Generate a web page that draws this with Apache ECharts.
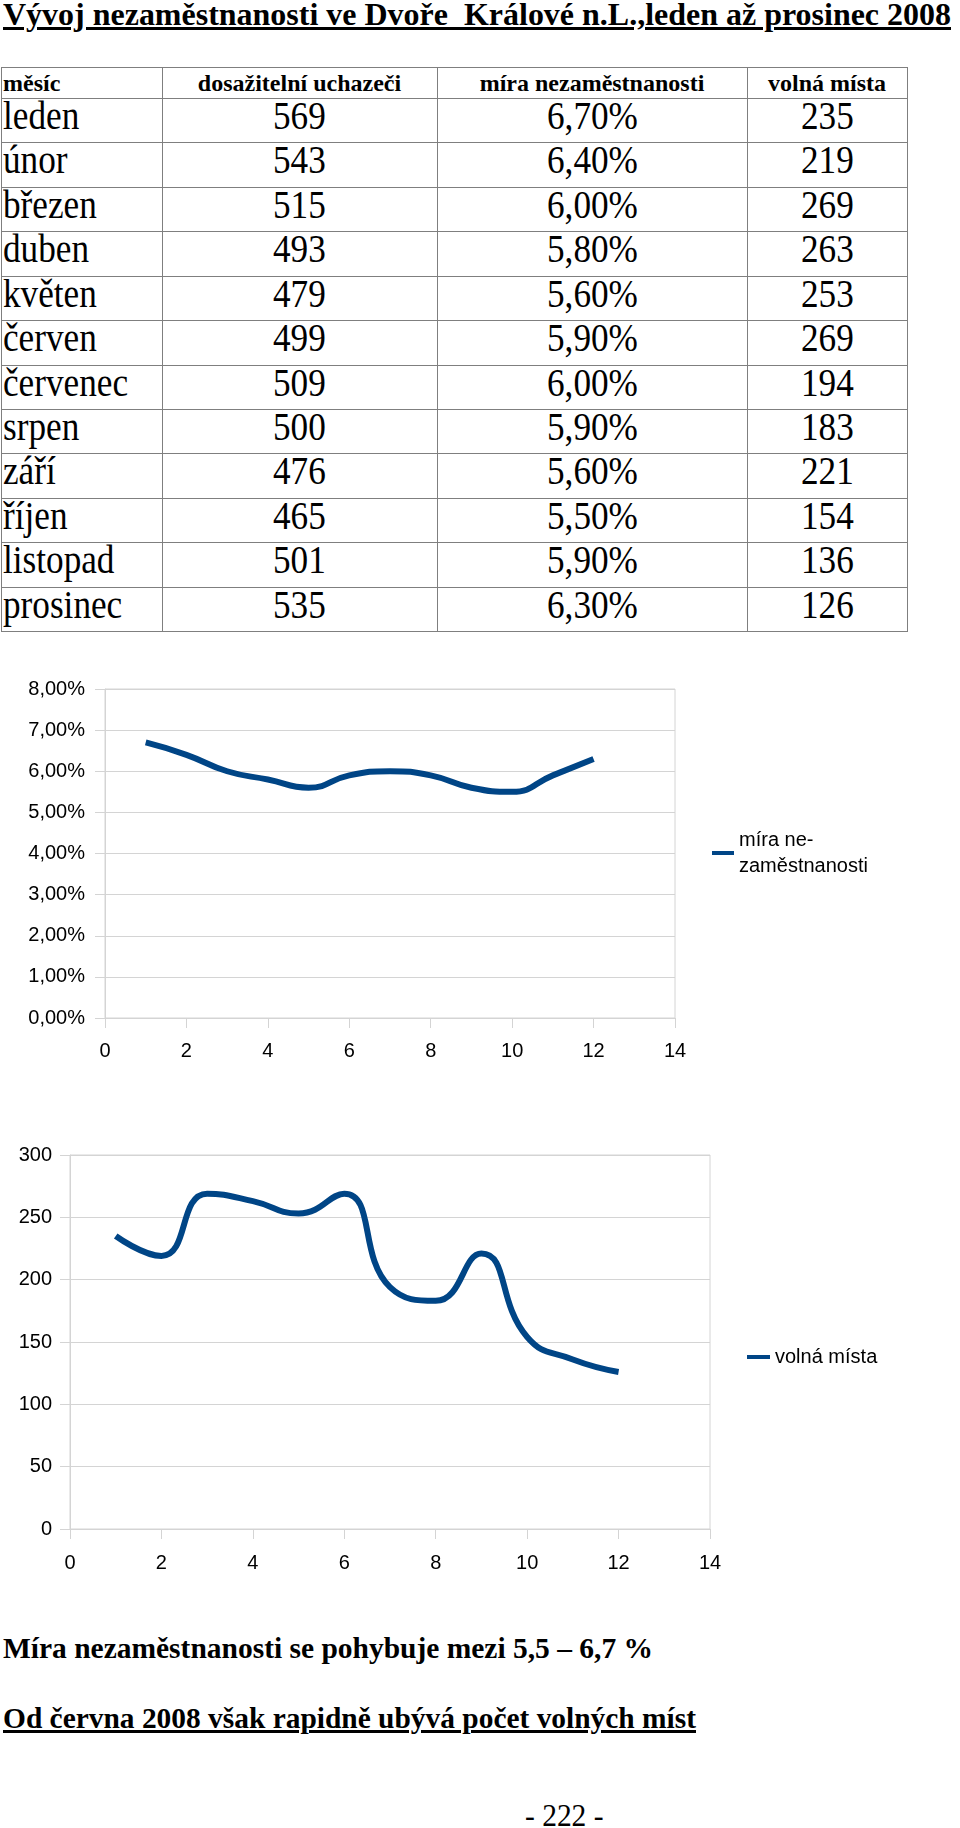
<!DOCTYPE html>
<html><head><meta charset="utf-8">
<script src="https://cdn.jsdelivr.net/npm/echarts@6/dist/echarts.min.js"></script>
<style>
html,body{margin:0;padding:0;background:#fff;}
body{width:960px;height:1828px;position:relative;overflow:hidden;}
.t{position:absolute;white-space:pre;color:#000;}
.ln{position:absolute;background:#7f7f7f;}
</style></head><body>
<div id="c1" style="position:absolute;left:0;top:660px;width:960px;height:420px"></div>
<div id="c2" style="position:absolute;left:0;top:1120px;width:960px;height:470px"></div>
<script>
// ---- data ----
const titleText = "Vývoj nezaměstnanosti ve Dvoře  Králové n.L.,leden až prosinec 2008";
const headers = ["měsíc", "dosažitelní uchazeči", "míra nezaměstnanosti", "volná místa"];
const months = ["leden", "únor", "březen", "duben", "květen", "červen", "červenec", "srpen", "září", "říjen", "listopad", "prosinec"];
const monthNumbers = [1, 2, 3, 4, 5, 6, 7, 8, 9, 10, 11, 12];
const applicants = [569, 543, 515, 493, 479, 499, 509, 500, 476, 465, 501, 535];
const unemploymentRate = [6.7, 6.4, 6.0, 5.8, 5.6, 5.9, 6.0, 5.9, 5.6, 5.5, 5.9, 6.3];
const vacancies = [235, 219, 269, 263, 253, 269, 194, 183, 221, 154, 136, 126];
const rateSeriesName = "míra nezaměstnanosti";
const rateLegendLabel = "míra ne-\nzaměstnanosti";
const vacSeriesName = "volná místa";
const note1 = "Míra nezaměstnanosti se pohybuje mezi 5,5 – 6,7 %";
const note2 = "Od června 2008 však rapidně ubývá počet volných míst";
const pageNo = "- 222 -";

// ---- helpers ----
const SERIF = '"Liberation Serif","Times New Roman",serif';
const SANS = '"Liberation Sans",Arial,sans-serif';
function addText(txt, o) {
  const d = document.createElement('div');
  d.className = 't';
  d.style.font = (o.bold ? 'bold ' : '') + o.size + 'px ' + SERIF;
  d.style.lineHeight = o.size + 'px';
  d.style.top = (o.baseline - 0.8375 * o.size) + 'px';
  const s = document.createElement('span');
  s.textContent = txt;
  s.style.display = 'inline-block';
  s.style.whiteSpace = 'pre';
  if (o.underline) s.style.textDecoration = 'underline';
  d.appendChild(s);
  document.body.appendChild(d);
  const nat = s.getBoundingClientRect().width;
  let k = o.scale || 1;
  if (o.width) k = o.width / nat;
  s.style.transformOrigin = '0 0';
  s.style.transform = 'scaleX(' + k + ')';
  if (o.center !== undefined) d.style.left = (o.center - nat * k / 2) + 'px';
  else d.style.left = o.x + 'px';
}
function line(x, y, w, h) {
  const d = document.createElement('div');
  d.className = 'ln';
  d.style.left = x + 'px'; d.style.top = y + 'px';
  d.style.width = w + 'px'; d.style.height = h + 'px';
  document.body.appendChild(d);
}

// ---- title ----
addText(titleText, {x: 3, baseline: 25, size: 32, bold: true, underline: true, width: 948});

// ---- table ----
const colX = [1, 162, 437, 747, 907];
const tableTop = 67, headBottom = 98, rowH = 44.42;
const rowYs = [tableTop, headBottom];
for (let i = 1; i <= months.length; i++) rowYs.push(headBottom + rowH * i);
rowYs.forEach(y => line(colX[0], Math.round(y), colX[4] - colX[0] + 1, 1));
colX.forEach(x => line(x, tableTop, 1, Math.round(rowYs[rowYs.length - 1]) - tableTop + 1));
// header
addText(headers[0], {x: 3, baseline: 91, size: 24, bold: true});
for (let c = 1; c < 4; c++) addText(headers[c], {center: (colX[c] + colX[c + 1]) / 2, baseline: 91, size: 24, bold: true});
// rows
months.forEach((m, i) => {
  const base = headBottom + rowH * i + 31.5;
  addText(m, {x: 3, baseline: base, size: 40, scale: 0.88});
  addText(String(applicants[i]), {center: (colX[1] + colX[2]) / 2, baseline: base, size: 40, scale: 0.88});
  addText(unemploymentRate[i].toFixed(2).replace('.', ',') + '%', {center: (colX[2] + colX[3]) / 2, baseline: base, size: 40, scale: 0.88});
  addText(String(vacancies[i]), {center: (colX[3] + colX[4]) / 2, baseline: base, size: 40, scale: 0.88});
});

// ---- notes ----
addText(note1, {x: 3, baseline: 1658, size: 30, bold: true, width: 650});
addText(note2, {x: 3, baseline: 1728, size: 30, bold: true, underline: true, width: 693});
addText(pageNo, {center: 564, baseline: 1826, size: 31, scale: 0.95});

// ---- charts ----
const gray = '#d4d4d4';
const blue = '#004586';
function baseAxis(extra) {
  return Object.assign({
    type: 'value',
    axisLine: {show: true, lineStyle: {color: gray, width: 1}},
    axisTick: {show: true, length: 10, lineStyle: {color: gray}},
    splitLine: {show: false},
  }, extra);
}
const c1 = echarts.init(document.getElementById('c1'));
c1.setOption({
  animation: false,
  grid: {left: 105, right: 285, top: 29, bottom: 62, show: true, borderColor: gray, borderWidth: 1, containLabel: false, outerBoundsMode: 'none'},
  xAxis: baseAxis({min: 0, max: 14, interval: 2,
    axisLabel: {margin: 23, fontSize: 20, color: '#000', fontFamily: SANS}}),
  yAxis: baseAxis({min: 0, max: 8, interval: 1,
    splitLine: {show: true, lineStyle: {color: gray, width: 1}},
    axisLabel: {margin: 20, fontSize: 20, color: '#000', fontFamily: SANS,
      formatter: v => v.toFixed(2).replace('.', ',') + '%'}}),
  legend: {
    left: 712, top: 148, padding: 0, orient: 'vertical',
    itemWidth: 22, itemHeight: 4, icon: 'rect',
    data: [rateSeriesName],
    formatter: () => rateLegendLabel,
    textStyle: {fontSize: 20, color: '#000', fontFamily: SANS, lineHeight: 26, padding: [38, 0, 0, 0]},
    selectedMode: false
  },
  series: [{
    name: rateSeriesName, type: 'line', smooth: 0.5, showSymbol: false,
    data: monthNumbers.map((m, i) => [m, unemploymentRate[i]]),
    lineStyle: {width: 6, color: blue}, itemStyle: {color: blue},
    emphasis: {disabled: true}
  }]
});

const c2 = echarts.init(document.getElementById('c2'));
c2.setOption({
  animation: false,
  grid: {left: 70, right: 250, top: 35, bottom: 61, show: true, borderColor: gray, borderWidth: 1, containLabel: false, outerBoundsMode: 'none'},
  xAxis: baseAxis({min: 0, max: 14, interval: 2,
    axisLabel: {margin: 24, fontSize: 20, color: '#000', fontFamily: SANS}}),
  yAxis: baseAxis({min: 0, max: 300, interval: 50,
    splitLine: {show: true, lineStyle: {color: gray, width: 1}},
    axisLabel: {margin: 18, fontSize: 20, color: '#000', fontFamily: SANS}}),
  legend: {
    left: 747, top: 223, padding: 0,
    itemWidth: 23, itemHeight: 4, icon: 'rect',
    data: [vacSeriesName],
    textStyle: {fontSize: 20, color: '#000', fontFamily: SANS, lineHeight: 20, padding: [8, 0, 0, 0]},
    selectedMode: false
  },
  series: [{
    name: vacSeriesName, type: 'line', smooth: 0.5, showSymbol: false,
    data: monthNumbers.map((m, i) => [m, vacancies[i]]),
    lineStyle: {width: 6, color: blue}, itemStyle: {color: blue},
    emphasis: {disabled: true}
  }]
});
</script>
</body></html>
